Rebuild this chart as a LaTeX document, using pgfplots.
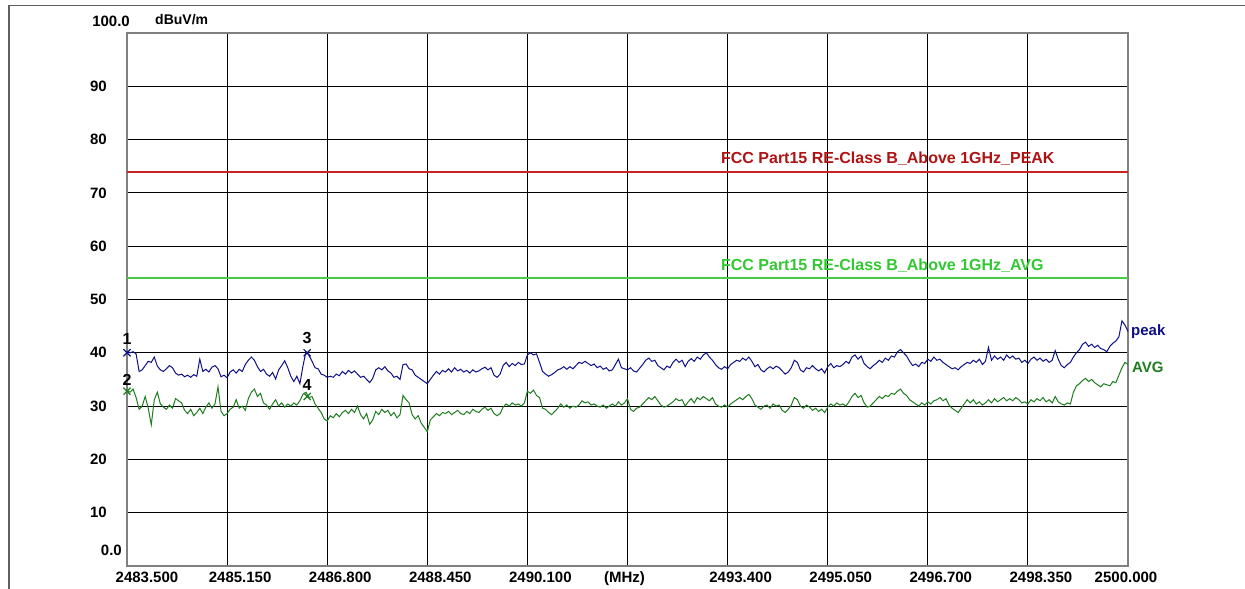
\documentclass[border=0pt]{standalone}
\usepackage{fontspec}
\setmainfont{Liberation Sans}
\usepackage{pgfplots}
\pgfplotsset{compat=1.18}
\usepackage{pgfplotstable}
\definecolor{peakc}{RGB}{15,15,135}
\definecolor{avgc}{RGB}{30,125,30}
\definecolor{limred}{RGB}{200,35,35}
\definecolor{limredtxt}{RGB}{175,20,20}
\definecolor{limgreen}{RGB}{70,205,70}
\definecolor{limgreentxt}{RGB}{50,200,50}
\definecolor{framegray}{RGB}{95,95,95}

\pgfplotstableread{
f p a
2483.50 40.3 33.0
2483.55 40.0 32.6
2483.60 40.2 33.2
2483.65 39.8 31.6
2483.70 36.5 29.4
2483.75 36.8 30.0
2483.80 37.6 31.8
2483.85 38.4 29.6
2483.90 38.2 26.5
2483.95 39.2 31.2
2484.00 37.5 32.6
2484.05 36.8 30.4
2484.10 36.5 29.8
2484.15 37.0 29.4
2484.20 37.6 30.2
2484.25 37.2 29.6
2484.30 36.2 31.4
2484.35 35.8 31.0
2484.40 36.0 30.6
2484.45 35.5 29.2
2484.50 35.8 28.6
2484.55 35.4 29.4
2484.60 35.9 28.2
2484.65 35.6 28.8
2484.70 38.8 29.6
2484.75 36.5 28.6
2484.80 36.9 29.8
2484.85 36.4 30.6
2484.90 37.3 29.6
2484.95 37.6 30.4
2485.00 37.0 33.6
2485.05 35.5 29.0
2485.10 35.8 28.2
2485.15 35.3 28.6
2485.20 36.4 29.4
2485.25 36.8 29.8
2485.30 36.2 31.2
2485.35 36.9 29.6
2485.40 36.5 30.0
2485.45 37.8 29.2
2485.50 38.6 31.4
2485.55 39.2 32.6
2485.60 38.6 33.2
2485.65 37.4 31.8
2485.70 36.5 32.4
2485.75 36.9 30.6
2485.80 36.0 30.2
2485.85 35.6 29.4
2485.90 36.3 30.4
2485.95 35.1 31.2
2486.00 36.8 30.0
2486.05 37.6 30.6
2486.10 38.5 29.8
2486.15 37.2 30.4
2486.20 35.6 30.0
2486.25 34.6 30.6
2486.30 35.6 30.2
2486.35 34.2 31.0
2486.40 37.5 32.2
2486.45 40.2 32.6
2486.50 39.5 31.6
2486.55 38.4 31.8
2486.60 37.2 30.4
2486.65 37.0 29.6
2486.70 36.0 28.8
2486.75 35.8 27.6
2486.80 35.4 27.2
2486.85 35.6 28.2
2486.90 35.4 27.8
2486.95 36.0 28.6
2487.00 35.7 28.0
2487.05 36.5 28.8
2487.10 36.0 29.2
2487.15 36.7 28.6
2487.20 36.2 29.4
2487.25 36.6 28.8
2487.30 36.0 30.0
2487.35 35.4 28.4
2487.40 35.6 27.6
2487.45 35.0 28.6
2487.50 34.4 26.6
2487.55 35.2 27.4
2487.60 36.8 29.0
2487.65 37.2 28.4
2487.70 36.8 29.4
2487.75 37.4 28.8
2487.80 36.6 29.2
2487.85 36.2 28.2
2487.90 35.4 28.8
2487.95 35.6 27.8
2488.00 35.0 28.4
2488.05 37.8 32.0
2488.10 37.9 31.2
2488.15 37.0 30.6
2488.20 36.8 28.4
2488.25 35.8 27.6
2488.30 35.4 28.2
2488.35 35.0 26.8
2488.40 34.6 26.0
2488.45 34.2 25.2
2488.50 35.0 27.4
2488.55 35.8 28.0
2488.60 36.5 28.6
2488.65 36.0 28.2
2488.70 36.7 28.8
2488.75 36.4 28.6
2488.80 37.0 29.0
2488.85 36.4 28.4
2488.90 37.2 28.8
2488.95 36.6 29.2
2489.00 36.9 28.6
2489.05 36.4 28.4
2489.10 36.7 29.0
2489.15 36.2 28.6
2489.20 36.8 29.4
2489.25 36.4 29.0
2489.30 36.6 28.8
2489.35 37.0 29.4
2489.40 37.3 29.8
2489.45 36.8 29.2
2489.50 37.2 29.6
2489.55 35.8 28.6
2489.60 35.4 28.2
2489.65 36.0 28.6
2489.70 37.6 29.8
2489.75 38.2 30.4
2489.80 37.4 30.0
2489.85 38.0 30.6
2489.90 37.6 30.2
2489.95 38.2 30.4
2490.00 37.8 30.0
2490.05 37.9 30.6
2490.10 39.6 32.8
2490.15 40.0 32.4
2490.20 39.6 33.0
2490.25 39.8 32.0
2490.30 38.2 31.6
2490.35 36.5 29.6
2490.40 36.0 29.4
2490.45 35.6 28.8
2490.50 35.9 28.4
2490.55 36.3 29.0
2490.60 36.8 29.6
2490.65 37.0 30.4
2490.70 37.4 29.8
2490.75 36.9 30.2
2490.80 37.4 29.6
2490.85 37.0 30.0
2490.90 37.6 29.8
2490.95 38.2 30.2
2491.00 38.0 31.0
2491.05 38.4 30.6
2491.10 38.0 30.8
2491.15 37.6 30.2
2491.20 37.9 30.4
2491.25 37.2 30.0
2491.30 37.5 29.8
2491.35 36.9 30.2
2491.40 37.2 29.6
2491.45 36.6 30.0
2491.50 36.8 30.4
2491.55 37.8 30.0
2491.60 38.8 30.8
2491.65 37.2 30.2
2491.70 37.0 30.6
2491.75 36.8 31.4
2491.80 37.2 29.4
2491.85 36.6 29.0
2491.90 36.4 29.6
2491.95 37.1 29.8
2492.00 37.8 30.4
2492.05 38.6 31.0
2492.10 39.0 31.6
2492.15 38.4 31.2
2492.20 38.6 31.8
2492.25 37.6 31.0
2492.30 37.2 30.2
2492.35 36.8 29.8
2492.40 37.5 30.0
2492.45 37.2 30.4
2492.50 38.2 30.8
2492.55 38.8 31.4
2492.60 38.2 31.0
2492.65 38.6 31.2
2492.70 37.4 30.0
2492.75 38.4 30.8
2492.80 38.9 31.4
2492.85 38.4 30.6
2492.90 39.2 31.6
2492.95 38.8 31.2
2493.00 39.6 31.8
2493.05 40.0 31.4
2493.10 39.2 31.0
2493.15 38.6 31.6
2493.20 37.8 30.4
2493.25 37.2 30.0
2493.30 36.9 29.8
2493.35 37.4 30.2
2493.40 37.0 29.8
2493.45 37.8 30.4
2493.50 38.2 30.8
2493.55 38.6 31.2
2493.60 38.4 31.6
2493.65 39.0 31.2
2493.70 38.6 31.8
2493.75 39.2 32.2
2493.80 38.4 31.4
2493.85 37.4 30.2
2493.90 37.8 29.8
2493.95 36.8 29.4
2494.00 36.4 30.0
2494.05 37.0 30.2
2494.10 37.4 29.6
2494.15 37.0 30.4
2494.20 37.5 30.0
2494.25 37.2 30.2
2494.30 36.6 29.2
2494.35 36.0 28.8
2494.40 36.4 29.4
2494.45 37.2 30.2
2494.50 38.6 31.6
2494.55 38.2 31.2
2494.60 36.8 30.0
2494.65 36.4 29.6
2494.70 37.2 30.2
2494.75 37.0 29.8
2494.80 37.6 29.2
2494.85 37.0 29.6
2494.90 36.6 29.0
2494.95 37.0 29.4
2495.00 36.2 28.8
2495.05 37.4 29.8
2495.10 38.0 30.4
2495.15 37.2 30.0
2495.20 37.6 30.6
2495.25 37.4 30.2
2495.30 37.8 30.4
2495.35 38.4 30.0
2495.40 38.0 30.8
2495.45 39.2 31.8
2495.50 39.6 32.4
2495.55 38.8 31.6
2495.60 39.4 32.0
2495.65 38.0 30.6
2495.70 37.4 29.8
2495.75 37.0 30.0
2495.80 37.6 30.6
2495.85 38.0 31.2
2495.90 38.6 31.8
2495.95 38.2 31.4
2496.00 39.0 32.0
2496.05 38.6 31.8
2496.10 39.4 32.4
2496.15 39.2 32.2
2496.20 40.2 32.8
2496.25 40.6 33.2
2496.30 40.0 32.4
2496.35 39.4 32.0
2496.40 38.4 31.2
2496.45 37.6 30.8
2496.50 37.9 30.4
2496.55 37.4 30.0
2496.60 38.2 30.6
2496.65 38.0 30.2
2496.70 38.8 30.8
2496.75 38.4 30.4
2496.80 39.2 31.0
2496.85 38.6 31.2
2496.90 38.8 31.6
2496.95 38.2 31.0
2497.00 37.8 31.4
2497.05 37.4 30.2
2497.10 37.0 29.6
2497.15 37.2 29.2
2497.20 36.8 28.8
2497.25 37.4 29.6
2497.30 37.8 30.4
2497.35 38.2 31.2
2497.40 38.0 30.6
2497.45 38.6 31.2
2497.50 38.2 30.4
2497.55 38.8 30.8
2497.60 37.8 30.2
2497.65 38.4 30.6
2497.70 41.0 31.2
2497.75 38.6 30.6
2497.80 39.4 31.4
2497.85 38.8 30.8
2497.90 39.2 31.2
2497.95 38.6 31.6
2498.00 39.6 31.0
2498.05 39.0 31.4
2498.10 39.4 31.0
2498.15 38.8 31.6
2498.20 39.0 31.2
2498.25 38.2 30.6
2498.30 38.6 30.8
2498.35 38.0 30.4
2498.40 38.8 31.2
2498.45 39.2 30.8
2498.50 38.6 31.4
2498.55 39.0 31.0
2498.60 38.4 31.6
2498.65 38.8 30.8
2498.70 38.2 31.2
2498.75 38.6 30.6
2498.80 40.4 31.8
2498.85 38.8 30.8
2498.90 37.6 30.4
2498.95 37.2 30.2
2499.00 37.8 30.6
2499.05 38.2 30.4
2499.10 39.2 32.6
2499.15 40.0 33.8
2499.20 40.6 34.2
2499.25 41.6 34.8
2499.30 42.0 35.2
2499.35 41.2 34.6
2499.40 41.6 35.0
2499.45 41.0 34.4
2499.50 41.4 34.0
2499.55 40.8 33.6
2499.60 40.6 34.2
2499.65 40.2 34.0
2499.70 41.2 33.8
2499.75 41.8 34.6
2499.80 42.2 34.4
2499.85 43.0 35.8
2499.90 46.0 37.2
2499.95 45.2 38.2
2500.00 44.0 37.8
}\spec

\begin{document}
\begin{tikzpicture}
\useasboundingbox (0,0) rectangle (1245pt,589pt);
\fill[white] (0,0) rectangle (1245pt,589pt);
\draw[line width=1.6pt, framegray] (9pt,0) -- (9pt,583.5pt) -- (1245pt,583.5pt);
\begin{axis}[
  at={(127pt,23pt)}, anchor=south west,
  scale only axis, width=1001pt, height=533pt,
  xmin=2483.5, xmax=2500, ymin=0, ymax=100,
  xtick={2483.5,2485.15,2486.8,2488.45,2490.1,2491.75,2493.4,2495.05,2496.7,2498.35,2500},
  xticklabels={,2485.150,2486.800,2488.450,2490.100,,2493.400,2495.050,2496.700,2498.350,},
  ytick={10,20,30,40,50,60,70,80,90},
  yticklabels={10,20,30,40,50,60,70,80,90},
  grid=major, major grid style={black, line width=0.9pt},
  major tick length=0pt,
  axis line style={draw=gray, line width=2pt},
  tick label style={font=\bfseries\fontsize{15}{18}\selectfont},
  xticklabel style={anchor=base, yshift=-16.5pt, xshift=13pt, inner sep=0pt},
  yticklabel style={anchor=east, xshift=-20pt, inner sep=0pt},
  /pgf/number format/assume math mode=true,
  clip=false,
]
\addplot[limred, line width=2pt] coordinates {(2483.5,74) (2500,74)};
\addplot[limgreen, line width=2pt] coordinates {(2483.5,54) (2500,54)};
\addplot[peakc, line width=1pt] table[x=f, y=p] {\spec};
\addplot[avgc, line width=1pt] table[x=f, y=a] {\spec};
\addplot[only marks, mark=x, mark size=5pt, peakc, line width=1.2pt] coordinates {(2483.5,40.0) (2486.47,40.0)};
\addplot[only marks, mark=x, mark size=5pt, avgc, line width=1.2pt] coordinates {(2483.5,32.8) (2486.47,31.8)};

\node[font=\bfseries\fontsize{16}{18}\selectfont, inner sep=0] at (axis cs:2483.5,42.5) {1};
\node[font=\bfseries\fontsize{16}{18}\selectfont, inner sep=0] at (axis cs:2483.5,34.9) {2};
\node[font=\bfseries\fontsize{16}{18}\selectfont, inner sep=0] at (axis cs:2486.47,42.7) {3};
\node[font=\bfseries\fontsize{16}{18}\selectfont, inner sep=0] at (axis cs:2486.47,33.9) {4};

\node[anchor=west, inner sep=0, text=limredtxt, font=\bfseries\fontsize{16}{19}\selectfont] at (axis cs:2493.29,76.4) {FCC Part15 RE-Class B\_Above 1GHz\_PEAK};
\node[anchor=west, inner sep=0, text=limgreentxt, font=\bfseries\fontsize{16}{19}\selectfont] at (axis cs:2493.29,56.4) {FCC Part15 RE-Class B\_Above 1GHz\_AVG};

\node[anchor=west, inner sep=0, text=peakc, font=\bfseries\fontsize{15}{18}\selectfont] at ([xshift=3pt]axis cs:2500,43.9) {peak};
\node[anchor=west, inner sep=0, text=avgc, font=\bfseries\fontsize{15}{18}\selectfont] at ([xshift=4pt]axis cs:2500,37.3) {AVG};

\node[anchor=east, inner sep=0, font=\bfseries\fontsize{15}{18}\selectfont] at ([xshift=3pt,yshift=12pt]axis cs:2483.5,100) {100.0};
\node[anchor=west, inner sep=0, font=\bfseries\fontsize{14}{16}\selectfont] at ([xshift=28pt,yshift=13pt]axis cs:2483.5,100) {dBuV/m};
\node[anchor=east, inner sep=0, font=\bfseries\fontsize{15}{18}\selectfont] at ([xshift=-5pt,yshift=16pt]axis cs:2483.5,0) {0.0};

\node[anchor=base, inner sep=0, font=\bfseries\fontsize{15}{18}\selectfont] at ([xshift=20pt,yshift=-16.5pt]axis cs:2483.5,0) {2483.500};
\node[anchor=base, inner sep=0, font=\bfseries\fontsize{15}{18}\selectfont] at ([xshift=-3pt,yshift=-16.5pt]axis cs:2491.75,0) {(MHz)};
\node[anchor=base, inner sep=0, font=\bfseries\fontsize{15}{18}\selectfont] at ([xshift=-2pt,yshift=-16.5pt]axis cs:2500,0) {2500.000};
\end{axis}
\end{tikzpicture}
\end{document}
